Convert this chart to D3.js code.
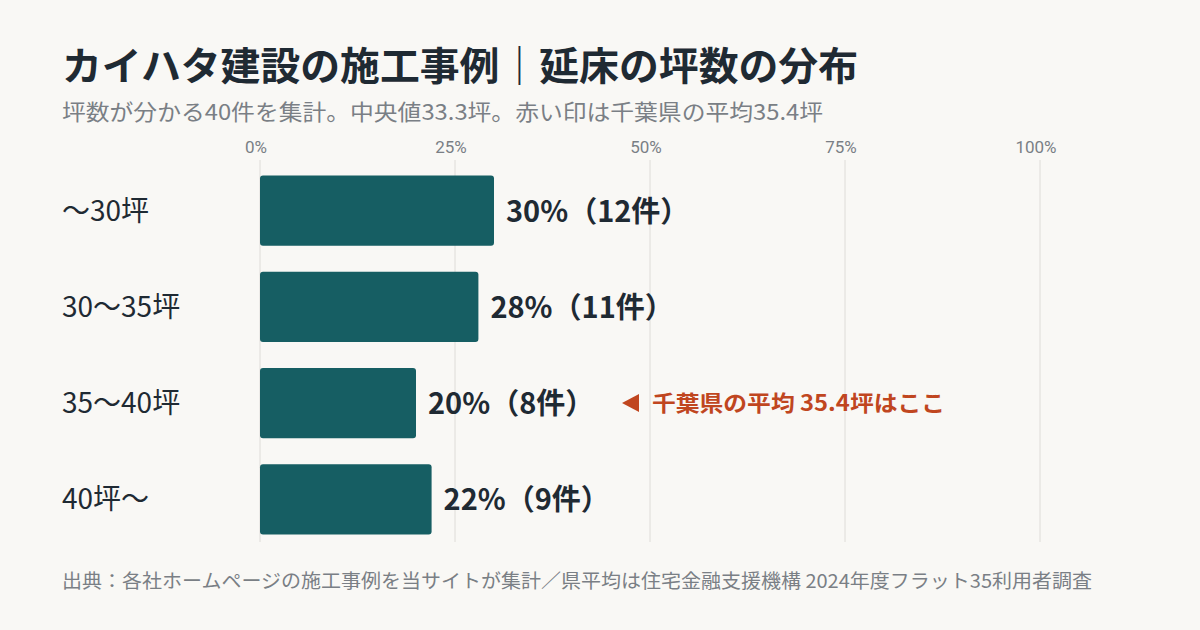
<!DOCTYPE html>
<html><head><meta charset="utf-8">
<script src="https://cdn.jsdelivr.net/npm/d3@7"></script>
<style>
body{margin:0;background:#f9f8f5;}
svg{display:block;font-family:"Noto Sans CJK JP","Noto Sans",sans-serif;}
</style></head>
<body><svg id="chart" width="1200" height="630"></svg>
<script>
var categories = ["〜30坪", "30〜35坪", "35〜40坪", "40坪〜"];
var shares = [30, 28, 20, 22];
var counts = [12, 11, 8, 9];
var ticks = [0, 25, 50, 75, 100];
var avgIndex = 2;
var avgLabel = "千葉県の平均 35.4坪はここ";

document.addEventListener('DOMContentLoaded', function () {
  var svg = d3.select('#chart');
  svg.append("rect").attr("width", 1200).attr("height", 630).attr("fill", "#f9f8f5");

  var x = d3.scaleLinear().domain([0, 100]).range([260, 1040]);
  var y = d3.scaleBand().domain(categories).range([163, 547]).paddingInner(0.27).paddingOuter(0.13);

  svg.append("text").attr("x", 62).attr("y", 80)
    .attr("font-size", 39).attr("font-weight", 700).attr("fill", "#1f2a33")
    .attr("textLength", 796).attr("lengthAdjust", "spacingAndGlyphs")
    .text("カイハタ建設の施工事例｜延床の坪数の分布");
  svg.append("text").attr("x", 62).attr("y", 120)
    .attr("font-size", 22).attr("fill", "#7a7f85")
    .attr("textLength", 761).attr("lengthAdjust", "spacingAndGlyphs")
    .text("坪数が分かる40件を集計。中央値33.3坪。赤い印は千葉県の平均35.4坪");

  var g = svg.append("g");
  g.selectAll("line").data(ticks).enter().append("line")
    .attr("x1", d => x(d)).attr("x2", d => x(d))
    .attr("y1", 160).attr("y2", 542)
    .attr("stroke", "#dedcd8").attr("stroke-width", 1);
  g.selectAll("text").data(ticks).enter().append("text")
    .attr("x", d => x(d) - 4).attr("y", 153)
    .attr("text-anchor", "middle").attr("font-size", 17).attr("fill", "#7a7f85")
    .attr("font-family", "Roboto, sans-serif")
    .text(d => d + "%");

  var rows = svg.append("g").selectAll("g").data(categories).enter().append("g");
  rows.append("rect")
    .attr("x", x(0)).attr("y", d => y(d))
    .attr("width", (d, i) => x(shares[i]) - x(0))
    .attr("height", y.bandwidth())
    .attr("rx", 3).attr("fill", "#165e63");
  rows.append("text")
    .attr("x", 62).attr("y", d => y(d) + y.bandwidth() / 2 + 10)
    .attr("font-size", 28).attr("fill", "#1f2a33")
    .text(d => d);
  rows.append("text")
    .attr("x", (d, i) => x(shares[i]) + 12).attr("y", d => y(d) + y.bandwidth() / 2 + 11)
    .attr("font-size", 29).attr("font-weight", 700).attr("fill", "#1f2a33")
    .text((d, i) => shares[i] + "%（" + counts[i] + "件）");

  var ay = y(categories[avgIndex]) + y.bandwidth() / 2;
  svg.append("path")
    .attr("d", "M622," + ay + "l17,-9v18z").attr("fill", "#c0461f");
  svg.append("text").attr("x", 652).attr("y", ay + 8)
    .attr("font-size", 22).attr("font-weight", 700).attr("fill", "#c0461f")
    .attr("textLength", 293).attr("lengthAdjust", "spacingAndGlyphs")
    .text(avgLabel);

  svg.append("text").attr("x", 62).attr("y", 588)
    .attr("font-size", 19).attr("fill", "#7a7f85")
    .attr("textLength", 1030).attr("lengthAdjust", "spacingAndGlyphs")
    .text("出典：各社ホームページの施工事例を当サイトが集計／県平均は住宅金融支援機構 2024年度フラット35利用者調査");
});
</script></body></html>
